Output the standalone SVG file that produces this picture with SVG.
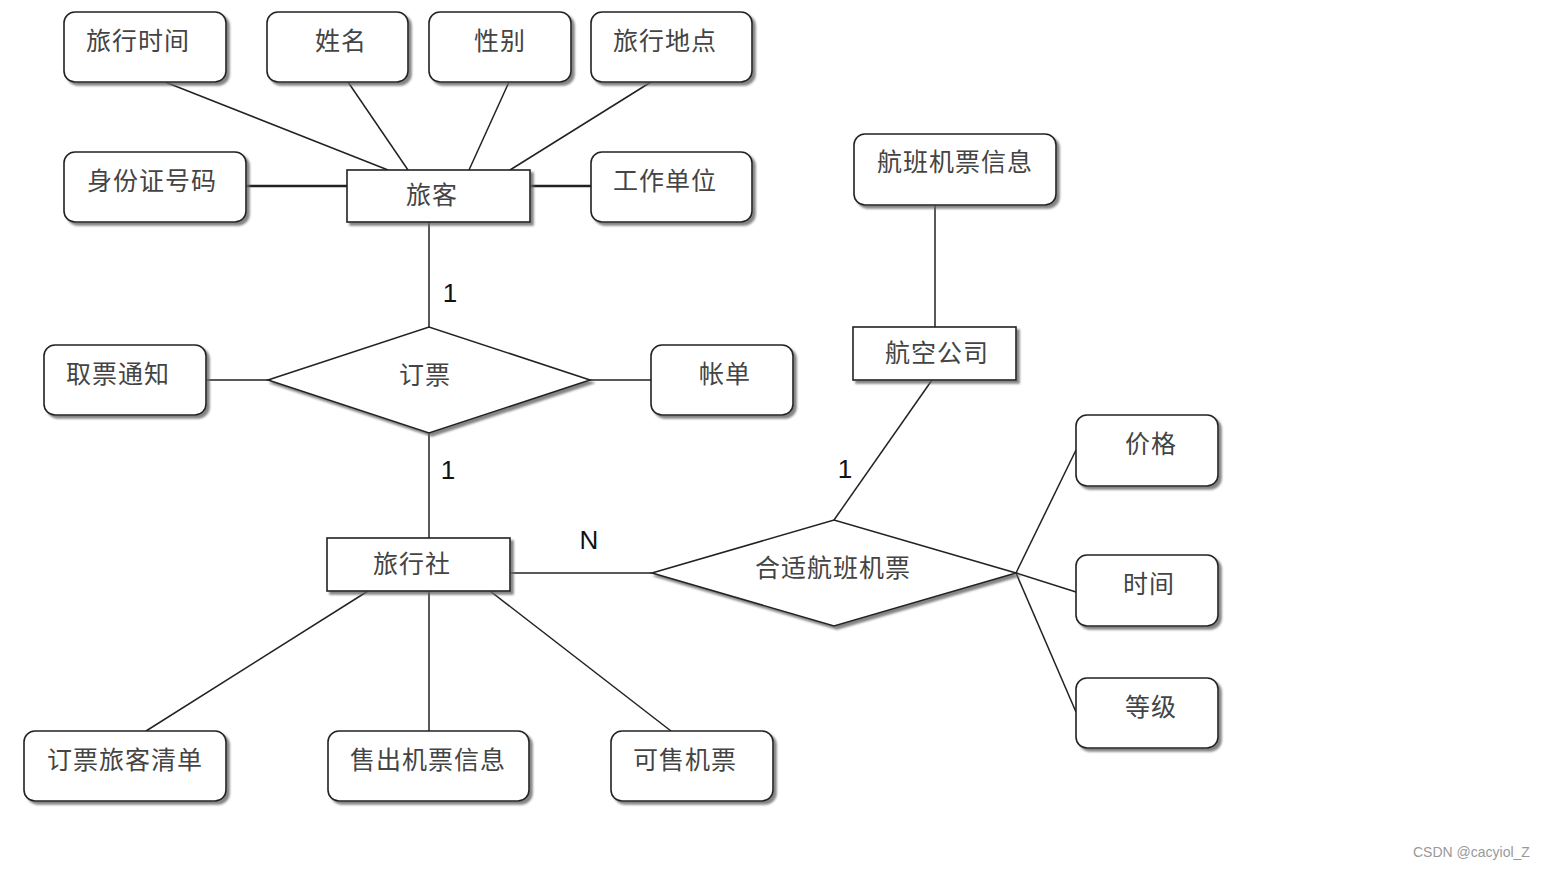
<svg xmlns="http://www.w3.org/2000/svg" width="1543" height="869" viewBox="0 0 1543 869">
<defs>
<filter id="sh" x="-10%" y="-10%" width="130%" height="140%">
<feDropShadow dx="3" dy="3" stdDeviation="1" flood-color="#666" flood-opacity="0.8"/>
</filter>
</defs>
<style>
.attr{fill:#fff;stroke:#222;stroke-width:1.6;filter:url(#sh)}
.ent{fill:#fff;stroke:#222;stroke-width:1.6;filter:url(#sh)}
.rel{fill:#fff;stroke:#222;stroke-width:1.6;filter:url(#sh)}
.t{font-family:"Noto Sans CJK SC","Noto Sans",sans-serif;font-size:25px;letter-spacing:1px;fill:#444;text-anchor:middle}
.c{stroke:#222;stroke-width:1.5;fill:none}
.n{font-family:"Liberation Sans",Arial,sans-serif;font-size:26px;fill:#111;text-anchor:middle}
.wm{font-family:"Liberation Sans",Arial,sans-serif;font-size:14px;fill:#999}
</style>
<rect width="1543" height="869" fill="#fff"/>
<g id="connectors">
<line class="c" x1="165" y1="82" x2="388" y2="170"/>
<line class="c" x1="348" y1="82" x2="408" y2="170"/>
<line class="c" x1="509" y1="82" x2="469" y2="170"/>
<line class="c" x1="651" y1="82" x2="510" y2="170"/>
<line class="c" x1="246" y1="186" x2="347" y2="186" style="stroke-width:2.4"/>
<line class="c" x1="530" y1="186" x2="591" y2="186" style="stroke-width:2.4"/>
<line class="c" x1="429" y1="222" x2="429" y2="327"/>
<line class="c" x1="206" y1="380" x2="268" y2="380"/>
<line class="c" x1="590" y1="380" x2="651" y2="380"/>
<line class="c" x1="429" y1="433" x2="429" y2="538"/>
<line class="c" x1="510" y1="573" x2="652" y2="573"/>
<line class="c" x1="935" y1="205" x2="935" y2="327"/>
<line class="c" x1="932" y1="380" x2="834" y2="520"/>
<line class="c" x1="1016" y1="573" x2="1076" y2="450"/>
<line class="c" x1="1016" y1="573" x2="1076" y2="592"/>
<line class="c" x1="1016" y1="573" x2="1076" y2="712"/>
<line class="c" x1="368" y1="591" x2="146" y2="731"/>
<line class="c" x1="429" y1="591" x2="429" y2="731"/>
<line class="c" x1="490" y1="591" x2="671" y2="731"/>
<text class="n" x="450" y="302">1</text>
<text class="n" x="448" y="479">1</text>
<text class="n" x="589" y="549">N</text>
<text class="n" x="845" y="478">1</text>
</g>
<g id="lvxingshijian"><rect class="attr" x="64" y="12" width="162" height="70" rx="11"/><text class="t" x="138" y="50">旅行时间</text></g>
<g id="xingming"><rect class="attr" x="267" y="12" width="141" height="70" rx="11"/><text class="t" x="341" y="50">姓名</text></g>
<g id="xingbie"><rect class="attr" x="429" y="12" width="142" height="70" rx="11"/><text class="t" x="500" y="50">性别</text></g>
<g id="lvxingdidian"><rect class="attr" x="591" y="12" width="161" height="70" rx="11"/><text class="t" x="665" y="50">旅行地点</text></g>
<g id="shenfenzheng"><rect class="attr" x="64" y="152" width="182" height="70" rx="11"/><text class="t" x="152" y="190">身份证号码</text></g>
<g id="gongzuodanwei"><rect class="attr" x="591" y="152" width="161" height="70" rx="11"/><text class="t" x="665" y="190">工作单位</text></g>
<g id="lvke"><rect class="ent" x="347" y="170" width="183" height="52"/><text class="t" x="432" y="204">旅客</text></g>
<g id="hangbanjipiaoxinxi"><rect class="attr" x="854" y="134" width="202" height="71" rx="11"/><text class="t" x="955" y="171">航班机票信息</text></g>
<g id="hangkonggongsi"><rect class="ent" x="853" y="327" width="163" height="53"/><text class="t" x="937" y="362">航空公司</text></g>
<g id="qupiaotongzhi"><rect class="attr" x="44" y="345" width="162" height="70" rx="11"/><text class="t" x="118" y="383">取票通知</text></g>
<g id="zhangdan"><rect class="attr" x="651" y="345" width="142" height="70" rx="11"/><text class="t" x="725" y="383">帐单</text></g>
<g id="dingpiao"><polygon class="rel" points="268,380 429,327 590,380 429,433"/><text class="t" x="425" y="384">订票</text></g>
<g id="jiage"><rect class="attr" x="1076" y="415" width="142" height="71" rx="11"/><text class="t" x="1151" y="453">价格</text></g>
<g id="shijian"><rect class="attr" x="1076" y="555" width="142" height="71" rx="11"/><text class="t" x="1149" y="593">时间</text></g>
<g id="dengji"><rect class="attr" x="1076" y="678" width="142" height="70" rx="11"/><text class="t" x="1151" y="716">等级</text></g>
<g id="lvxingshe"><rect class="ent" x="327" y="538" width="183" height="53"/><text class="t" x="412" y="573">旅行社</text></g>
<g id="heshihangban"><polygon class="rel" points="652,573 834,520 1016,573 834,626"/><text class="t" x="833" y="577">合适航班机票</text></g>
<g id="dingpiaolvkeqingdan"><rect class="attr" x="24" y="731" width="202" height="70" rx="11"/><text class="t" x="125" y="769">订票旅客清单</text></g>
<g id="shouchujipiaoxinxi"><rect class="attr" x="328" y="731" width="201" height="70" rx="11"/><text class="t" x="428" y="769">售出机票信息</text></g>
<g id="keshoujipiao"><rect class="attr" x="611" y="731" width="162" height="70" rx="11"/><text class="t" x="685" y="769">可售机票</text></g>
<text class="wm" x="1413" y="857">CSDN @cacyiol_Z</text>
</svg>
